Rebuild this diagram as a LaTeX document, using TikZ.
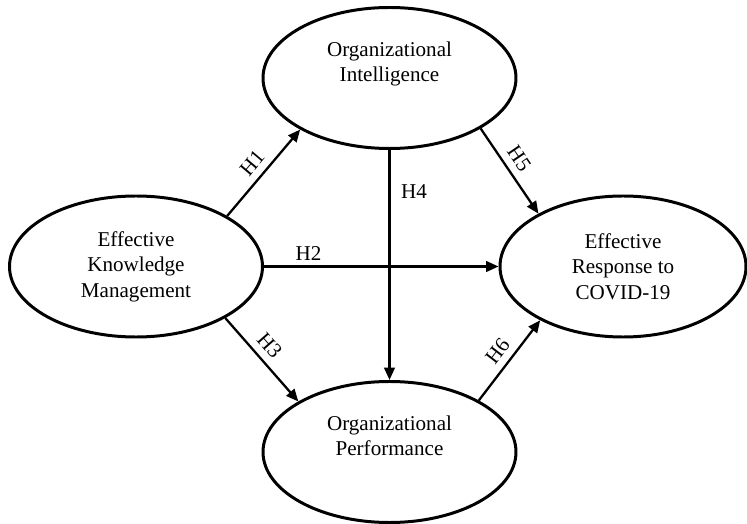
\documentclass[tikz,border=0pt]{standalone}
\usepackage{fontspec}
\setmainfont{Liberation Serif}
\usetikzlibrary{shapes.geometric,arrows.meta}

\begin{document}
\begin{tikzpicture}[
  construct/.style={draw, ellipse, line width=1.7pt, inner sep=0pt,
    minimum width=5.06cm, minimum height=2.82cm, align=center,
    font=\fontsize{12}{14.5}\selectfont},
  hyp/.style={-{Triangle[length=7pt,width=6pt]}, line width=1.3pt},
  hlabel/.style={font=\fontsize{12}{14}\selectfont, inner sep=1pt}
]
\useasboundingbox (0,0) rectangle (14.94,-10.48);

\def\xa{2.72}
\def\xb{7.79}
\def\xc{12.46}

\def\ya{-1.56}
\def\yb{-5.33}
\def\yc{-9.04}

\node[construct](oi) at (\xb, \ya) {Organizational\\Intelligence\\\strut};
\node[construct](ekm) at (\xa, \yb) {Effective\\Knowledge\\Management};
\node[construct, minimum width=4.92cm](erc) at (\xc, \yb) {Effective\\Response to\\COVID-19};
\node[construct](op) at (\xb, \yc) {Organizational\\Performance\\\strut};

\draw[hyp] (ekm.29) -- node[hlabel, sloped, above=3pt] {H1} (oi.210);
\draw[hyp] (ekm) -- node[hlabel, above=2pt, pos=0.19] {H2} (erc);
\draw[hyp] (ekm.-30) -- node[hlabel, sloped, above=3pt, pos=0.45] {H3} (op.151);
\draw[hyp] (oi.south) -- node[hlabel, right=5pt, pos=0.18] {H4} (oi.south |- op.north);
\draw[hyp] (oi.-29) -- node[hlabel, sloped, above=3pt, pos=0.45] {H5} (erc.148);
\draw[hyp] (op.30) -- node[hlabel, sloped, above=3pt] {H6} (erc.213);

\end{tikzpicture}
\end{document}
